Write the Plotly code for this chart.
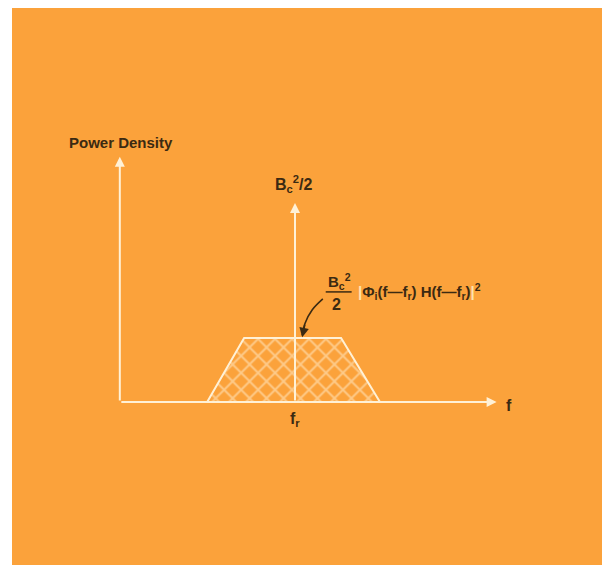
import plotly.graph_objects as go

# frequency axis in units where f_r = 0, density in units of the band level
band_freq = [-1.83, -1.06, 0.96, 1.77, -1.83]
band_dens = [0, 1, 1, 0, 0]

axis_origin = (-3.65, 0)
freq_axis_end = 4.2
dens_axis_end = 3.83
carrier_freq = 0
carrier_level = 3.11

# leader from the formula down to the band top
leader_freq = [0.58, 0.36, 0.21, 0.15]
leader_dens = [1.61, 1.44, 1.23, 1.04]

ORANGE = "#FBA23B"
CREAM = "#FFF1D6"
INK = "#3B2A12"

fig = go.Figure()

# cross-hatched band
fig.add_trace(go.Scatter(
    x=band_freq, y=band_dens,
    mode="lines",
    fill="toself",
    fillcolor=ORANGE,
    fillpattern=dict(shape="x", fgcolor=CREAM, bgcolor=ORANGE, size=12, solidity=0.3),
    line=dict(color=CREAM, width=2),
    hoverinfo="skip",
))

# curved leader line
fig.add_trace(go.Scatter(
    x=leader_freq, y=leader_dens,
    mode="lines",
    line=dict(color=INK, width=1.6, shape="spline"),
    hoverinfo="skip",
))

def arrow(x0, y0, x1, y1, color, width=2, size=1.0, head=2):
    fig.add_annotation(
        x=x1, y=y1, ax=x0, ay=y0,
        xref="x", yref="y", axref="x", ayref="y",
        text="", showarrow=True,
        arrowhead=head, arrowsize=size, arrowwidth=width, arrowcolor=color,
    )

# axes and carrier impulse
arrow(axis_origin[0], 0, axis_origin[0], dens_axis_end, CREAM)
arrow(axis_origin[0], 0, freq_axis_end, 0, CREAM)
arrow(carrier_freq, 0, carrier_freq, carrier_level, CREAM)
# leader arrowhead
arrow(leader_freq[-2], leader_dens[-2], leader_freq[-1], leader_dens[-1] - 0.03, INK, width=1.6, size=1.2)

def label(x, y, text, size=14, xanchor="center"):
    fig.add_annotation(
        x=x, y=y, xref="x", yref="y", text=text, showarrow=False,
        xanchor=xanchor, yanchor="middle",
        font=dict(family="Liberation Sans", size=size, color=INK, weight="bold"),
    )

label(-3.63, 4.05, "Power Density", size=15)
label(-0.04, 3.41, "B<sub>c</sub><sup>2</sup>/2", size=16)
label(4.45, -0.05, "f", size=16)
label(0.0, -0.28, "f<sub>r</sub>", size=16)

# formula: fraction + magnitude term
label(0.93, 1.89, "B<sub>c</sub><sup>2</sup>", size=15)
label(0.87, 1.53, "2", size=16)
fig.add_shape(type="line", x0=0.64, x1=1.18, y0=1.72, y1=1.72,
              xref="x", yref="y", line=dict(color=INK, width=1.5))
label(1.27, 1.72,
      "<span style='color:#FFE2B0'>|</span>Φ<sub>i</sub>(f—f<sub>r</sub>) H(f—f<sub>r</sub>)"
      "<span style='color:#FFE2B0'>|</span><sup>2</sup>",
      size=15, xanchor="left")

fig.update_xaxes(range=[-5.896, 6.5625], visible=False, fixedrange=True)
fig.update_yaxes(range=[-2.547, 6.156], visible=False, fixedrange=True)

# page body adds an 8px offset, so the figure is sized to fit the window
fig.update_layout(
    width=602, height=557,
    margin=dict(l=4, r=0, t=0, b=0),
    paper_bgcolor="white",
    plot_bgcolor=ORANGE,
    showlegend=False,
)

fig.write_html("out.html")
